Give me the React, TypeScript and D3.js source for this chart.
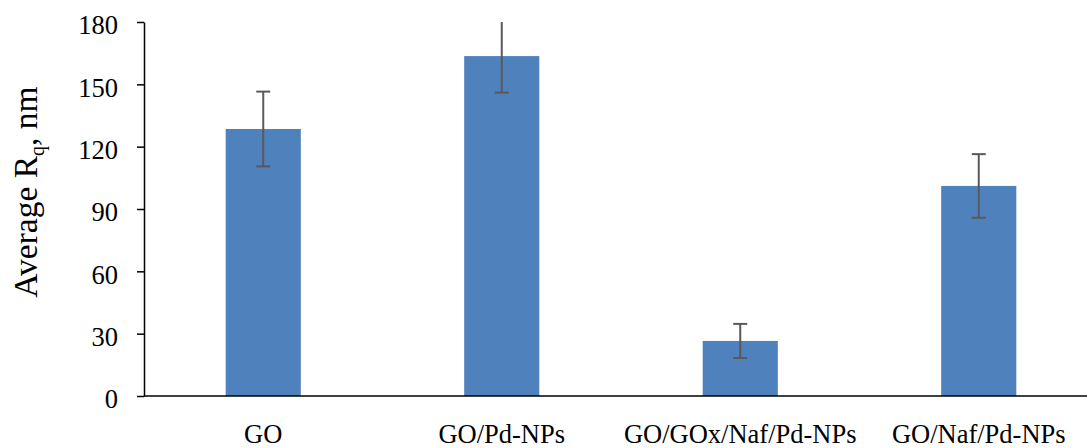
import React, { useEffect, useRef } from "react";
import * as d3 from "d3";

// sample names along the x axis
const categories = ["GO", "GO/Pd-NPs", "GO/GOx/Naf/Pd-NPs", "GO/Naf/Pd-NPs"];
// average Rq (nm) and its error
const values = [128.5, 163.6, 26.5, 101.1];
const errors = [18, 17.6, 8.2, 15.3];
const yTicks = [0, 30, 60, 90, 120, 150, 180];

const W = 1087;
const H = 448;

const App = () => {
  const ref = useRef<SVGSVGElement>(null);

  useEffect(() => {
    document.body.style.margin = "0";
    const margin = { top: 22, left: 144, bottom: 52 };
    const svg = d3.select(ref.current);
    svg.selectAll("*").remove();

    const plotH = H - margin.top - margin.bottom;
    const x = d3
      .scaleBand()
      .domain(categories)
      .range([margin.left, 1098])
      .paddingInner(0.685)
      .paddingOuter(0.3425);
    const y = d3
      .scaleLinear()
      .domain([0, 180])
      .range([margin.top + plotH, margin.top]);

    svg
      .append("defs")
      .append("clipPath")
      .attr("id", "plotclip")
      .append("rect")
      .attr("x", margin.left)
      .attr("y", margin.top)
      .attr("width", W - margin.left)
      .attr("height", plotH);

    const data = categories.map((c, i) => ({ c, v: values[i], e: errors[i] }));

    // bars
    svg
      .append("g")
      .selectAll("rect")
      .data(data)
      .enter()
      .append("rect")
      .attr("x", (d) => x(d.c)!)
      .attr("y", (d) => y(d.v))
      .attr("width", x.bandwidth())
      .attr("height", (d) => y(0) - y(d.v))
      .attr("fill", "#4F81BD");

    // error bars
    const eg = svg.append("g").attr("clip-path", "url(#plotclip)");
    data.forEach((d) => {
      const cx = x(d.c)! + x.bandwidth() / 2;
      const g = eg.append("g").attr("stroke", "#595959").attr("stroke-width", 2);
      g.append("line")
        .attr("x1", cx)
        .attr("x2", cx)
        .attr("y1", y(d.v + d.e))
        .attr("y2", y(d.v - d.e));
      [d.v + d.e, d.v - d.e].forEach((t) => {
        g.append("line")
          .attr("x1", cx - 7)
          .attr("x2", cx + 7)
          .attr("y1", y(t))
          .attr("y2", y(t));
      });
    });

    // y axis
    const yAxis = svg
      .append("g")
      .attr("transform", "translate(" + margin.left + ",0)")
      .call(d3.axisLeft(y).tickValues(yTicks).tickSize(7).tickSizeOuter(0).tickPadding(19));
    yAxis.select(".domain").attr("stroke", "#000").attr("stroke-width", 1.5);
    yAxis.selectAll(".tick line").attr("stroke", "#000").attr("stroke-width", 1.5);
    yAxis
      .selectAll("text")
      .attr("font-family", "Liberation Serif, Times New Roman, serif")
      .attr("font-size", 26.5)
      .attr("fill", "#000")
      .attr("dy", "0.45em");

    // x axis line
    svg
      .append("line")
      .attr("x1", margin.left)
      .attr("x2", W)
      .attr("y1", y(0))
      .attr("y2", y(0))
      .attr("stroke", "#000")
      .attr("stroke-width", 1.5);

    svg
      .append("g")
      .selectAll("text")
      .data(categories)
      .enter()
      .append("text")
      .attr("x", (d) => x(d)! + x.bandwidth() / 2)
      .attr("y", 443)
      .attr("text-anchor", "middle")
      .attr("font-family", "Liberation Serif, Times New Roman, serif")
      .attr("font-size", 26.5)
      .attr("fill", "#000")
      .text((d) => d);

    // y axis title
    const title = svg
      .append("text")
      .attr("transform", "translate(37,192) rotate(-90)")
      .attr("text-anchor", "middle")
      .attr("font-family", "Liberation Serif, Times New Roman, serif")
      .attr("font-size", 33.5)
      .attr("fill", "#000");
    title.append("tspan").text("Average R");
    title.append("tspan").attr("font-size", 20).attr("dy", 7).text("q");
    title.append("tspan").attr("dy", -7).text(", nm");
  }, []);

  return <svg ref={ref} width={W} height={H} style={{ display: "block", background: "#fff" }}></svg>;
};

export default App;
